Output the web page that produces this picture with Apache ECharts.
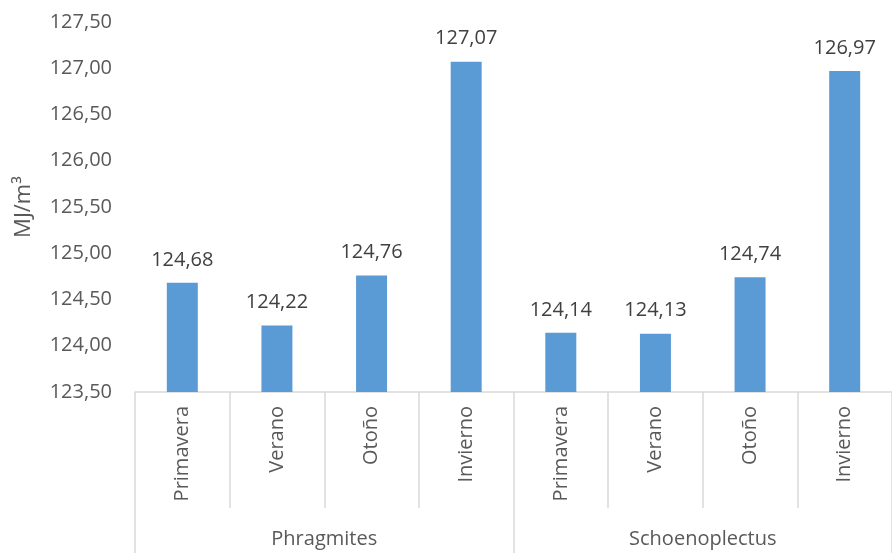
<!DOCTYPE html>
<html><head><meta charset="utf-8">
<script src="https://cdn.jsdelivr.net/npm/echarts@6/dist/echarts.min.js"></script>
<style>html,body{margin:0;padding:0;background:#fff}#c{width:892px;height:553px}</style>
</head><body><div id="c"></div>
<script>
const categories = ['Primavera','Verano','Otoño','Invierno','Primavera','Verano','Otoño','Invierno'];
const groups = ['Phragmites','Schoenoplectus'];
const values = [124.68,124.22,124.76,127.07,124.14,124.13,124.74,126.97];
const yMin = 123.5, yMax = 127.5, yStep = 0.5;
const fmt = v => v.toFixed(2).replace('.', ',');
const font = '"Open Sans", "Noto Sans", sans-serif';
const txt = '#595959';
const chart = echarts.init(document.getElementById('c'));
chart.setOption({
  animation: false,
  grid: {left: 135, top: 22, width: 768, height: 370, containLabel: false},
  xAxis: [{
    type: 'category', data: categories, position: 'bottom',
    axisLine: {lineStyle: {color: '#d9d9d9', width: 1.5}},
    axisTick: {show: true, length: 116, alignWithLabel: false, lineStyle: {color: '#d9d9d9', width: 1.5}},
    axisLabel: {rotate: 90, margin: 14, color: txt, fontSize: 20, fontFamily: font, interval: 0}
  },{
    type: 'category', data: groups, position: 'bottom',
    axisLine: {show: false},
    axisTick: {show: true, length: 161, alignWithLabel: false, lineStyle: {color: '#d9d9d9', width: 1.5}},
    axisLabel: {margin: 137, color: txt, fontSize: 20, fontFamily: font}
  }],
  yAxis: {
    type: 'value', min: yMin, max: yMax, interval: yStep,
    name: 'MJ/m³', nameLocation: 'middle', nameGap: 100, nameRotate: 90,
    nameTextStyle: {color: txt, fontSize: 22, fontFamily: font},
    axisLine: {show: false}, axisTick: {show: false}, splitLine: {show: false},
    axisLabel: {margin: 23, color: txt, fontSize: 20, fontFamily: font, formatter: v => fmt(v)}
  },
  series: [{
    type: 'bar', data: values, barWidth: 31, xAxisIndex: 0,
    itemStyle: {color: '#5b9bd5'},
    label: {show: true, position: 'top', distance: 13, color: '#404040', fontSize: 20, fontFamily: font, formatter: p => fmt(p.value)}
  }]
});
</script></body></html>
